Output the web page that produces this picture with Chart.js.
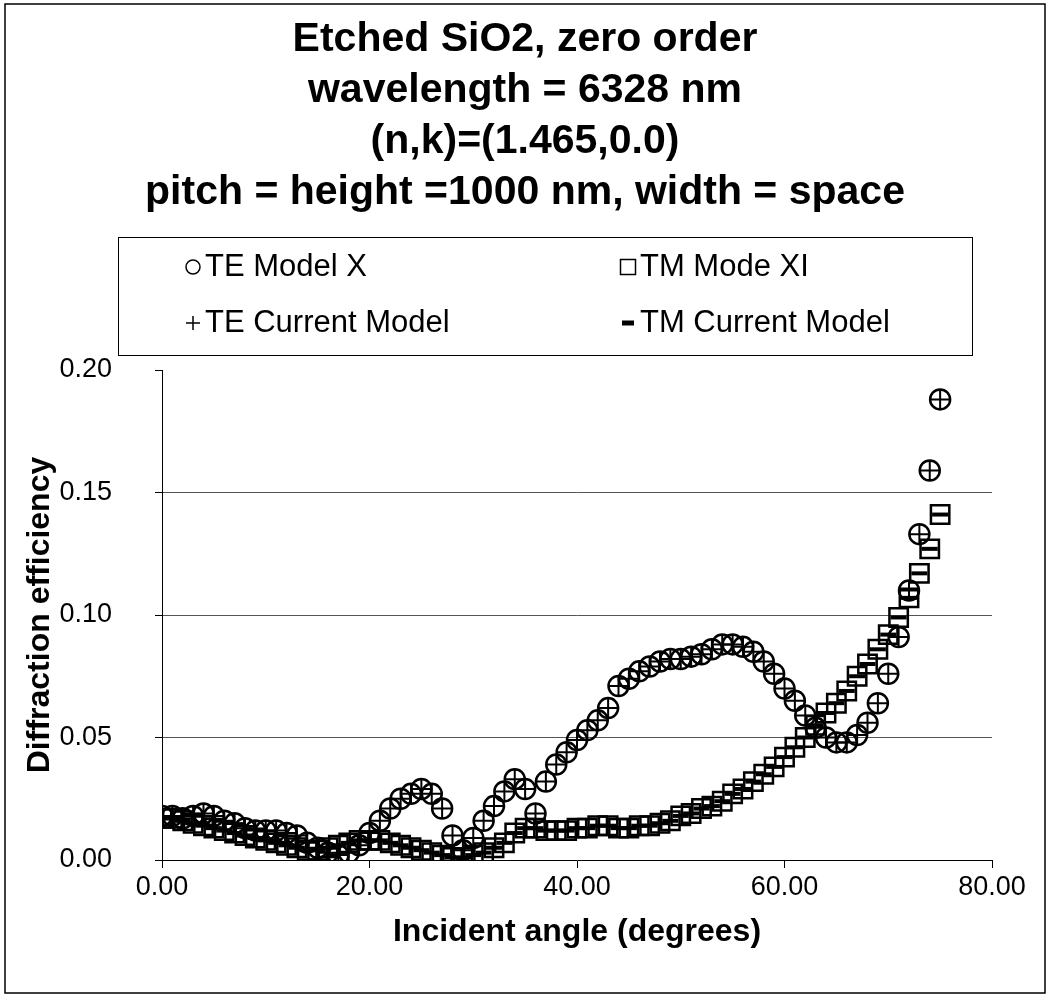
<!DOCTYPE html>
<html>
<head>
<meta charset="utf-8">
<script src="https://cdn.jsdelivr.net/npm/chart.js@4/dist/chart.umd.min.js"></script>
<style>
  html, body { margin: 0; padding: 0; background: #fff; }
  #wrap { width: 1050px; height: 997px; }
</style>
</head>
<body>
<div id="wrap"><canvas id="chart" width="1050" height="997"></canvas></div>
<script>
// Etched SiO2 zero order diffraction efficiency vs incident angle

const angles = [
  0, 1, 2, 3, 4, 5, 6, 7, 8, 9, 10, 11, 12, 13, 14, 15, 16, 17, 18, 19,
  20, 21, 22, 23, 24, 25, 26, 27, 28, 29, 30, 31, 32, 33, 34, 35, 36, 37, 38, 39,
  40, 41, 42, 43, 44, 45, 46, 47, 48, 49, 50, 51, 52, 53, 54, 55, 56, 57, 58, 59,
  60, 61, 62, 63, 64, 65, 66, 67, 68, 69, 70, 71, 72, 73, 74, 75
];

const teModelX = [
  0.018, 0.018, 0.017, 0.018, 0.019, 0.018, 0.016, 0.015, 0.013, 0.012,
  0.012, 0.012, 0.011, 0.010, 0.007, 0.005, 0.003, 0.002, 0.003, 0.006,
  0.011, 0.016, 0.021, 0.025, 0.027, 0.029, 0.027, 0.021, 0.010, 0.004,
  0.009, 0.016, 0.022, 0.028, 0.033, 0.029, 0.019, 0.032, 0.039, 0.044,
  0.049, 0.053, 0.057, 0.062, 0.071, 0.074, 0.077, 0.079, 0.081, 0.082,
  0.082, 0.083, 0.084, 0.086, 0.088, 0.088, 0.087, 0.085, 0.081, 0.076,
  0.070, 0.065, 0.059, 0.054, 0.050, 0.048, 0.048, 0.051, 0.056, 0.064,
  0.076, 0.091, 0.110, 0.133, 0.159, 0.188
];

const tmModeXI = [
  0.017, 0.017, 0.016, 0.015, 0.014, 0.013, 0.012, 0.011, 0.010, 0.009,
  0.008, 0.007, 0.006, 0.005, 0.004, 0.004, 0.005, 0.006, 0.007, 0.008,
  0.008, 0.008, 0.007, 0.006, 0.005, 0.004, 0.003, 0.002, 0.001, 0.001,
  0.002, 0.003, 0.005, 0.007, 0.011, 0.013, 0.013, 0.012, 0.012, 0.012,
  0.013, 0.013, 0.014, 0.014, 0.013, 0.013, 0.014, 0.014, 0.015, 0.016,
  0.018, 0.019, 0.021, 0.022, 0.024, 0.027, 0.029, 0.032, 0.035, 0.038,
  0.042, 0.046, 0.050, 0.055, 0.060, 0.064, 0.069, 0.075, 0.080, 0.086,
  0.092, 0.099, 0.107, 0.117, 0.127, 0.141
];

const teCurrent = [
  0.018, 0.018, 0.017, 0.018, 0.019, 0.018, 0.016, 0.015, 0.013, 0.012,
  0.012, 0.012, 0.011, 0.010, 0.007, 0.005, 0.003, 0.002, 0.003, 0.006,
  0.011, 0.016, 0.021, 0.025, 0.027, 0.029, 0.027, 0.021, 0.010, 0.004,
  0.009, 0.016, 0.022, 0.028, 0.033, 0.029, 0.019, 0.032, 0.039, 0.044,
  0.049, 0.053, 0.057, 0.062, 0.071, 0.074, 0.077, 0.079, 0.081, 0.082,
  0.082, 0.083, 0.084, 0.086, 0.088, 0.088, 0.087, 0.085, 0.081, 0.076,
  0.070, 0.065, 0.059, 0.054, 0.050, 0.048, 0.048, 0.051, 0.056, 0.064,
  0.076, 0.091, 0.110, 0.133, 0.159, 0.188
];

const tmCurrent = [
  0.017, 0.017, 0.016, 0.015, 0.014, 0.013, 0.012, 0.011, 0.010, 0.009,
  0.008, 0.007, 0.006, 0.005, 0.004, 0.004, 0.005, 0.006, 0.007, 0.008,
  0.008, 0.008, 0.007, 0.006, 0.005, 0.004, 0.003, 0.002, 0.001, 0.001,
  0.002, 0.003, 0.005, 0.007, 0.011, 0.013, 0.013, 0.012, 0.012, 0.012,
  0.013, 0.013, 0.014, 0.014, 0.013, 0.013, 0.014, 0.014, 0.015, 0.016,
  0.018, 0.019, 0.021, 0.022, 0.024, 0.027, 0.029, 0.032, 0.035, 0.038,
  0.042, 0.046, 0.050, 0.055, 0.060, 0.064, 0.069, 0.075, 0.080, 0.086,
  0.092, 0.099, 0.107, 0.117, 0.127, 0.141
];

const seriesNames = ['TE Model X', 'TM Mode XI', 'TE Current Model', 'TM Current Model'];
const titleLines = [
  'Etched SiO2, zero order',
  'wavelength = 6328 nm',
  '(n,k)=(1.465,0.0)',
  'pitch = height =1000 nm, width = space'
];
const xTicks = [0, 20, 40, 60, 80];
const yTicks = [0, 0.05, 0.10, 0.15, 0.20];

const FONT = "'Liberation Sans', Arial, sans-serif";

function pts(values) {
  return values.map((v, i) => ({ x: angles[i], y: v }));
}

// frame, title block and legend box drawn straight on the canvas
const framePlugin = {
  id: 'frame',
  beforeDraw(chart) {
    const c = chart.ctx;
    c.save();
    c.fillStyle = '#fff';
    c.fillRect(0, 0, chart.width, chart.height);
    c.restore();
  },
  afterDraw(chart) {
    const c = chart.ctx;
    c.save();
    c.strokeStyle = '#000';
    c.fillStyle = '#000';
    c.lineWidth = 1.5;
    c.strokeRect(5, 4, 1040, 989);

    // title
    c.font = 'bold 41px ' + FONT;
    c.textAlign = 'center';
    c.textBaseline = 'middle';
    titleLines.forEach((t, i) => c.fillText(t, 525, 40 + i * 51));

    // legend
    c.lineWidth = 1;
    c.strokeRect(118.5, 237.5, 854, 118);
    c.font = '31px ' + FONT;
    c.textAlign = 'left';

    const items = [
      { x: 193, y: 267, name: seriesNames[0], kind: 'circle' },
      { x: 628, y: 267, name: seriesNames[1], kind: 'square' },
      { x: 193, y: 323, name: seriesNames[2], kind: 'plus' },
      { x: 628, y: 323, name: seriesNames[3], kind: 'dash' }
    ];
    items.forEach(it => {
      c.beginPath();
      if (it.kind === 'circle') {
        c.lineWidth = 1.5;
        c.arc(it.x, it.y, 7, 0, Math.PI * 2);
        c.stroke();
      } else if (it.kind === 'square') {
        c.lineWidth = 1.5;
        c.strokeRect(it.x - 7.5, it.y - 7.5, 15, 15);
      } else if (it.kind === 'plus') {
        c.lineWidth = 1.5;
        c.moveTo(it.x - 7, it.y); c.lineTo(it.x + 7, it.y);
        c.moveTo(it.x, it.y - 7); c.lineTo(it.x, it.y + 7);
        c.stroke();
      } else {
        c.fillRect(it.x - 6, it.y - 2.5, 12, 5);
      }
      c.fillText(it.name, it.x + 12, it.y);
    });
    c.restore();
  }
};

const ctx = document.getElementById('chart');

new Chart(ctx, {
  type: 'scatter',
  data: {
    datasets: [
      {
        label: seriesNames[0],
        data: pts(teModelX),
        pointStyle: 'circle',
        radius: 10,
        borderWidth: 2.5,
        borderColor: '#000',
        backgroundColor: 'rgba(0,0,0,0)'
      },
      {
        label: seriesNames[1],
        data: pts(tmModeXI),
        pointStyle: 'rect',
        radius: 13,
        borderWidth: 2.5,
        borderColor: '#000',
        backgroundColor: 'rgba(0,0,0,0)'
      },
      {
        label: seriesNames[2],
        data: pts(teCurrent),
        pointStyle: 'cross',
        radius: 10,
        borderWidth: 2,
        borderColor: '#000'
      },
      {
        label: seriesNames[3],
        data: pts(tmCurrent),
        pointStyle: 'line',
        radius: 8,
        borderWidth: 4,
        borderColor: '#000'
      }
    ]
  },
  options: {
    responsive: false,
    animation: false,
    events: [],
    layout: { padding: { left: 0, right: 58, top: 370, bottom: 42 } },
    plugins: {
      legend: { display: false },
      tooltip: { enabled: false },
      title: { display: false }
    },
    scales: {
      x: {
        type: 'linear',
        min: 0,
        max: 80,
        afterFit(s) { s.height = 95; },
        afterBuildTicks(s) { s.ticks = xTicks.map(v => ({ value: v })); },
        grid: { drawOnChartArea: false, drawTicks: true, tickLength: 8, tickColor: '#000' },
        border: { color: '#000', width: 1 },
        ticks: {
          color: '#000',
          font: { family: FONT, size: 27 },
          padding: 3,
          maxRotation: 0,
          callback: v => v.toFixed(2)
        },
        title: {
          display: true,
          text: 'Incident angle (degrees)',
          color: '#000',
          font: { family: FONT, size: 32, weight: 'bold' },
          padding: { top: 4, bottom: 4 }
        }
      },
      y: {
        type: 'linear',
        min: 0,
        max: 0.2,
        afterFit(s) { s.width = 162; },
        afterBuildTicks(s) { s.ticks = yTicks.map(v => ({ value: v })); },
        grid: {
          color: ctx => (ctx.tick && ctx.tick.value > 0 && ctx.tick.value < 0.2) ? '#555' : 'rgba(0,0,0,0)',
          lineWidth: 1,
          drawTicks: true,
          tickLength: 7,
          tickColor: '#000'
        },
        border: { color: '#000', width: 1 },
        ticks: {
          color: '#000',
          font: { family: FONT, size: 27 },
          padding: 43,
          callback: v => v.toFixed(2)
        },
        title: {
          display: true,
          text: 'Diffraction efficiency',
          color: '#000',
          font: { family: FONT, size: 32, weight: 'bold' },
          padding: { top: 21, bottom: 4 }
        }
      }
    }
  },
  plugins: [framePlugin]
});
</script>
</body>
</html>
